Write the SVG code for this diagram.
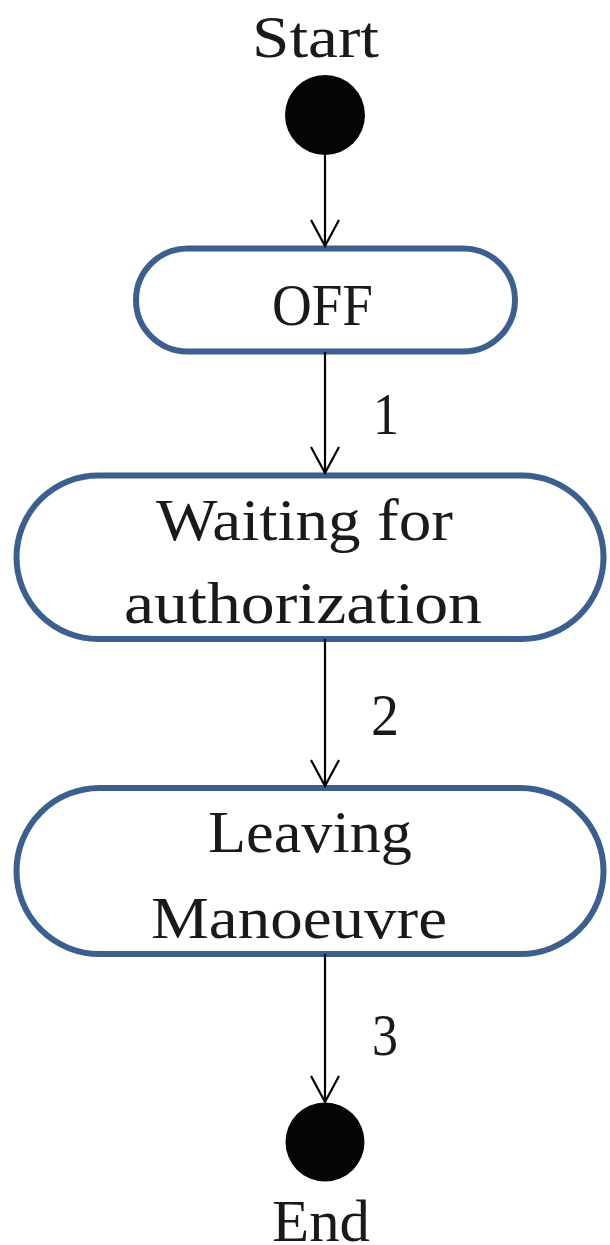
<svg xmlns="http://www.w3.org/2000/svg" width="610" height="1245" viewBox="0 0 610 1245">
  <style>
    .state { fill: #ffffff; stroke: #3b5f8e; stroke-width: 6; }
    .pseudo { fill: #050505; }
    .lbl { font-family: "Liberation Serif", "Times New Roman", serif; font-size: 60px; fill: #1a1a1a; }
    .edge { stroke: #000000; stroke-width: 2.2; fill: none; }
  </style>
  <defs>
    <marker id="v" markerUnits="userSpaceOnUse" markerWidth="40" markerHeight="40" viewBox="-30 -20 40 40" refX="0" refY="0" orient="auto">
      <path d="M -26 -14 L 0 0 L -26 14" fill="none" stroke="#000000" stroke-width="2.2"/>
    </marker>
  </defs>

  <g id="start">
    <text class="lbl" x="252" y="57" textLength="127" lengthAdjust="spacingAndGlyphs">Start</text>
    <circle class="pseudo" cx="325" cy="115" r="40"/>
  </g>

  <g id="off">
    <rect class="state" x="136" y="248.5" width="379" height="103" rx="51.5" ry="51.5"/>
    <text class="lbl" x="272" y="325" textLength="101" lengthAdjust="spacingAndGlyphs">OFF</text>
  </g>

  <g id="waiting">
    <rect class="state" x="16.5" y="475.5" width="587" height="163.5" rx="81.75" ry="81.75"/>
    <text class="lbl" x="156" y="540" textLength="297" lengthAdjust="spacingAndGlyphs">Waiting for</text>
    <text class="lbl" x="124" y="623" textLength="358" lengthAdjust="spacingAndGlyphs">authorization</text>
  </g>

  <g id="leaving">
    <rect class="state" x="16.5" y="788" width="587" height="166" rx="83" ry="83"/>
    <text class="lbl" x="208" y="852" textLength="204" lengthAdjust="spacingAndGlyphs">Leaving</text>
    <text class="lbl" x="151" y="938" textLength="296" lengthAdjust="spacingAndGlyphs">Manoeuvre</text>
  </g>

  <g id="end">
    <circle class="pseudo" cx="325" cy="1142" r="39.5"/>
    <text class="lbl" x="272" y="1241" textLength="98" lengthAdjust="spacingAndGlyphs">End</text>
  </g>

  <g id="connectors">
    <line class="edge" x1="325" y1="155" x2="325" y2="246" marker-end="url(#v)"/>
    <line class="edge" x1="325" y1="352" x2="325" y2="473" marker-end="url(#v)"/>
    <text class="lbl" x="373" y="434" textLength="26" lengthAdjust="spacingAndGlyphs">1</text>
    <line class="edge" x1="325" y1="639" x2="325" y2="786" marker-end="url(#v)"/>
    <text class="lbl" x="371" y="735" textLength="28" lengthAdjust="spacingAndGlyphs">2</text>
    <line class="edge" x1="325" y1="954" x2="325" y2="1102" marker-end="url(#v)"/>
    <text class="lbl" x="372" y="1055" textLength="26" lengthAdjust="spacingAndGlyphs">3</text>
  </g>
</svg>
